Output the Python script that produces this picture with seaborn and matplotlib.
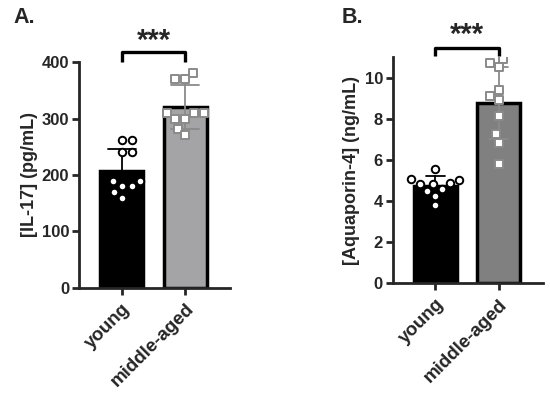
import numpy as np
import pandas as pd
import seaborn as sns
import matplotlib.pyplot as plt

groups = ["young", "middle-aged"]
young_il17 = [262, 262, 240, 240, 189, 189, 180, 180, 170, 160]
middle_il17 = [381, 370, 370, 309, 309, 309, 300, 300, 281, 270]
young_aqp4 = [5.58, 5.09, 5.04, 4.88, 4.83, 4.83, 4.60, 4.50, 4.27, 3.79]
middle_aqp4 = [10.93, 10.73, 10.52, 9.43, 9.14, 8.94, 8.13, 7.27, 6.83, 5.80]

sns.set_style("ticks")
plt.rcParams['font.family'] = ['Liberation Sans', 'DejaVu Sans']
plt.rcParams['font.weight'] = 'bold'


def make_df(young, middle):
    return pd.DataFrame({
        "group": ["young"] * len(young) + ["middle-aged"] * len(middle),
        "value": list(young) + list(middle),
    })


def draw_panel(ax, df, bar_colors, ylabel, ylim, yticks, capsize, bracket, star_y):
    sns.barplot(data=df, x="group", y="value", hue="group", order=groups,
                palette=bar_colors, errorbar="sd", capsize=capsize, width=0.68,
                edgecolor="black", linewidth=2.5, legend=False,
                err_kws={"linewidth": 1.3}, ax=ax)
    # error bar colours per group
    err_colors = ["black", "#8a8a8a"]
    for line, c in zip(ax.lines, err_colors):
        line.set_color(c)
    sns.swarmplot(data=df[df.group == "young"], x="group", y="value", order=groups,
                  marker="o", color="white", edgecolor="black", linewidth=1.4,
                  size=5.4, ax=ax, zorder=5)
    sns.swarmplot(data=df[df.group == "middle-aged"], x="group", y="value", order=groups,
                  marker="s", color="white", edgecolor="#8a8a8a", linewidth=1.4,
                  size=5.4, ax=ax, zorder=5)
    ax.set_xlim(-0.67, 1.7)
    ax.set_ylim(*ylim)
    ax.set_yticks(yticks)
    ax.set_xlabel("")
    ax.set_ylabel(ylabel, fontsize=13, fontweight="bold", labelpad=3)
    ax.set_xticks([0, 1])
    ax.set_xticklabels(groups, rotation=45, ha="right", rotation_mode="anchor",
                       fontsize=13.5, fontweight="bold")
    ax.tick_params(axis="y", labelsize=12, width=2, length=5, pad=2)
    ax.tick_params(axis="x", width=2, length=5, pad=4)
    for lab in ax.get_yticklabels():
        lab.set_fontweight("bold")
    sns.despine(ax=ax)
    for s in ["left", "bottom"]:
        ax.spines[s].set_linewidth(2)
    lo, hi = bracket
    ax.plot([0, 0, 1, 1], [lo, hi, hi, lo], color="black", linewidth=2.4,
            clip_on=False, solid_capstyle="butt")
    ax.text(0.5, star_y, "***", ha="center", va="center", fontsize=21,
            fontweight="bold", clip_on=False)


fig = plt.figure(figsize=(5.5, 3.97), dpi=100)
ax1 = fig.add_axes([0.1436, 0.2746, 0.2745, 0.5692])
ax2 = fig.add_axes([0.714, 0.2864, 0.273, 0.5693])

draw_panel(ax1, make_df(young_il17, middle_il17), ["black", "#a4a4a7"],
           "[IL-17] (pg/mL)", (0, 400), [0, 100, 200, 300, 400], 0.44,
           (400, 418), 438)
draw_panel(ax2, make_df(young_aqp4, middle_aqp4), ["black", "#808080"],
           "[Aquaporin-4] (ng/mL)", (0, 11), [0, 2, 4, 6, 8, 10], 0.3,
           (11.05, 11.43), 12.1)

fig.text(0.024, 0.955, "A.", fontsize=15.5, fontweight="bold", va="center")
fig.text(0.622, 0.955, "B.", fontsize=15.5, fontweight="bold", va="center")

fig.savefig("out.png", dpi=100)
